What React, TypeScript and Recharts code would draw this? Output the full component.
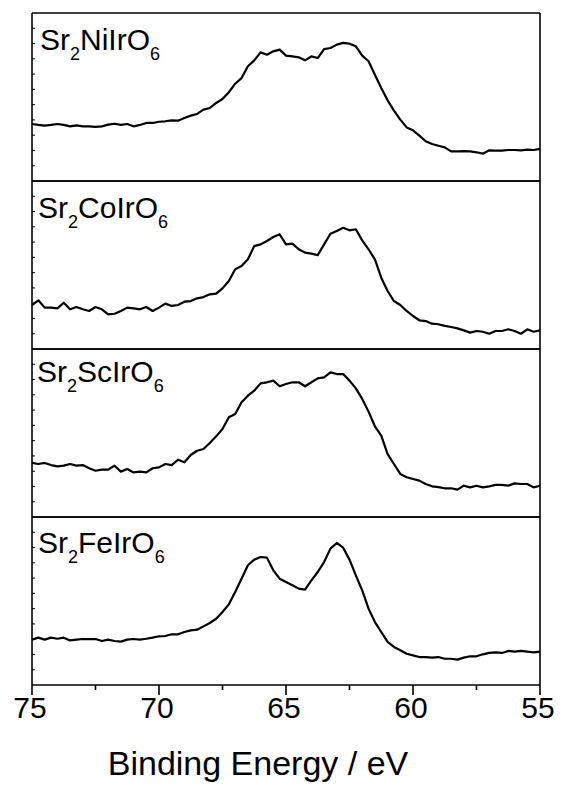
import React from "react";
import { Customized, Line, LineChart, XAxis, YAxis } from "recharts";

const FONT = '"Liberation Sans", Arial, Helvetica, sans-serif';

// binding energy grid (eV)
const ENERGY = [
  75, 74.75, 74.5, 74.25, 74, 73.75, 73.5, 73.25, 73, 72.75, 72.5, 72.25, 72,
  71.75, 71.5, 71.25, 71, 70.75, 70.5, 70.25, 70, 69.75, 69.5, 69.25, 69, 68.75,
  68.5, 68.25, 68, 67.75, 67.5, 67.25, 67, 66.75, 66.5, 66.25, 66, 65.75, 65.5,
  65.25, 65, 64.75, 64.5, 64.25, 64, 63.75, 63.5, 63.25, 63, 62.75, 62.5, 62.25,
  62, 61.75, 61.5, 61.25, 61, 60.75, 60.5, 60.25, 60, 59.75, 59.5, 59.25, 59,
  58.75, 58.5, 58.25, 58, 57.75, 57.5, 57.25, 57, 56.75, 56.5, 56.25, 56, 55.75,
  55.5, 55.25, 55,
];

// intensities, arbitrary units per panel
const NI = [
  3.73, 3.67, 3.62, 3.67, 3.73, 3.67, 3.58, 3.64, 3.58, 3.58,
  3.54, 3.58, 3.69, 3.75, 3.67, 3.73, 3.58, 3.67, 3.8, 3.8,
  3.88, 3.91, 3.97, 3.95, 4.12, 4.28, 4.39, 4.67, 4.78, 5.11,
  5.37, 5.81, 6.37, 6.74, 7.51, 7.9, 8.42, 8.27, 8.49, 8.6,
  8.21, 8.16, 8.1, 7.9, 8.16, 8.05, 8.64, 8.71, 8.93, 9.04,
  8.99, 8.82, 8.21, 7.84, 6.96, 6.09, 5.28, 4.61, 4.02, 3.51,
  3.32, 2.97, 2.6, 2.42, 2.31, 2.2, 1.94, 1.94, 1.96, 1.94,
  1.88, 1.79, 2.01, 1.99, 1.99, 2.03, 2.03, 2.01, 2.05, 2.03,
  2.1,
];

const CO = [
  2.88, 3.19, 2.71, 2.71, 2.66, 3.03, 2.6, 2.75, 2.6, 2.49,
  2.75, 2.6, 2.27, 2.31, 2.49, 2.71, 2.66, 2.6, 2.75, 2.49,
  2.71, 2.97, 2.82, 2.88, 3.1, 3.14, 3.32, 3.4, 3.58, 3.62,
  3.97, 4.45, 5.22, 5.43, 5.87, 6.74, 6.85, 7.07, 7.33, 7.51,
  6.85, 6.9, 6.53, 6.31, 6.24, 6.15, 6.85, 7.55, 7.73, 7.94,
  7.77, 7.84, 7.11, 6.53, 5.87, 4.67, 3.8, 3.14, 2.88, 2.49,
  2.16, 1.88, 1.83, 1.66, 1.62, 1.51, 1.44, 1.35, 1.22, 1.07,
  1.18, 1.13, 1.0, 1.18, 1.18, 1.29, 1.18, 1.0, 1.29, 1.13,
  1.22,
];

const SC = [
  3.54, 3.47, 3.54, 3.4, 3.32, 3.36, 3.47, 3.36, 3.4, 3.19,
  3.03, 3.1, 3.1, 3.36, 2.97, 3.14, 2.92, 2.97, 2.92, 3.19,
  3.25, 3.47, 3.4, 3.75, 3.58, 4.06, 4.34, 4.45, 4.85, 5.28,
  5.76, 6.53, 6.74, 7.51, 7.94, 8.27, 8.75, 8.82, 8.93, 8.56,
  8.71, 8.82, 8.82, 8.56, 8.82, 9.08, 9.14, 9.47, 9.36, 9.36,
  8.93, 8.42, 7.73, 6.9, 5.94, 5.33, 4.12, 3.47, 2.82, 2.6,
  2.49, 2.38, 2.16, 2.01, 1.96, 1.88, 1.88, 1.79, 2.05, 1.94,
  2.05, 1.94, 2.01, 2.1, 2.1, 2.05, 2.2, 2.16, 2.16, 1.94,
  2.05,
];

const FE = [
  2.97, 3.1, 2.97, 3.1, 3.03, 3.1, 2.92, 2.97, 3.01, 3.01,
  3.01, 2.88, 2.97, 2.88, 2.84, 2.97, 3.01, 2.97, 3.03, 3.1,
  3.19, 3.21, 3.32, 3.32, 3.47, 3.58, 3.62, 3.84, 4.06, 4.34,
  4.78, 5.28, 6.09, 6.96, 7.84, 8.21, 8.38, 8.34, 7.51, 6.96,
  6.74, 6.53, 6.31, 6.24, 6.85, 7.4, 8.05, 8.93, 9.3, 8.99,
  8.21, 7.18, 6.2, 5.0, 4.12, 3.47, 2.82, 2.49, 2.27, 2.05,
  1.94, 1.83, 1.83, 1.79, 1.83, 1.72, 1.72, 1.66, 1.79, 1.88,
  1.88, 2.01, 2.1, 2.14, 2.1, 2.23, 2.18, 2.23, 2.18, 2.14,
  2.18,
];

const X_TICKS = [75, 72.5, 70, 67.5, 65, 62.5, 60, 57.5, 55];
const Y_TICKS = [1, 2, 3, 4, 5, 6, 7, 8, 9, 10];

const PANELS = [
  { key: "ni", metal: "Ni", labelX: 32, labelY: 37 },
  { key: "co", metal: "Co", labelX: 30, labelY: 37 },
  { key: "sc", metal: "Sc", labelX: 29, labelY: 33 },
  { key: "fe", metal: "Fe", labelX: 30, labelY: 36 },
];

const data = ENERGY.map((e, i) => ({
  energy: e,
  ni: NI[i],
  co: CO[i],
  sc: SC[i],
  fe: FE[i],
}));

const CHART_W = 547;
const PANEL_H = 168;
const AXIS_H = 100;
const STROKE = 1.6;

const EnergyTick = (props: any) => {
  const { x, y, payload } = props;
  const major = payload.value % 5 === 0;
  return (
    <g>
      <line x1={x} x2={x} y1={y} y2={y + (major ? 10 : 5)} stroke="#000" strokeWidth={STROKE} />
      {major ? (
        <text x={x - 2} y={y + 33} textAnchor="middle" fontSize={30} fontFamily={FONT} fill="#000">
          {payload.value}
        </text>
      ) : null}
    </g>
  );
};

const NoLabel = () => <g />;

const CompoundLabel = ({ x, y, metal }: { x: number; y: number; metal: string }) => (
  <text x={x} y={y} fontSize={30} fontFamily={FONT} fill="#000">
    Sr
    <tspan fontSize={18} dy={10}>2</tspan>
    <tspan fontSize={30} dy={-10}>{metal}IrO</tspan>
    <tspan fontSize={18} dy={10}>6</tspan>
  </text>
);

const TitleLabel = (p: any) => {
  const vb = p.viewBox;
  return (
    <text
      x={vb.x + vb.width / 2 - 28}
      y={vb.y + 90}
      textAnchor="middle"
      fontSize={34}
      fontFamily={FONT}
      fill="#000"
    >
      Binding Energy / eV
    </text>
  );
};

const Panel = ({ panel, index }: { panel: (typeof PANELS)[number]; index: number }) => {
  const last = index === PANELS.length - 1;
  const height = 1 + PANEL_H + (last ? AXIS_H : 1);

  return (
    <div style={{ marginTop: index === 0 ? 0 : -2 }}>
      <LineChart
        width={CHART_W}
        height={height}
        data={data}
        margin={{ top: 0, right: 14, bottom: 0, left: 24 }}
      >
        <XAxis
          xAxisId="top"
          orientation="top"
          dataKey="energy"
          type="number"
          domain={[55, 75]}
          reversed
          ticks={X_TICKS}
          height={1}
          tick={NoLabel}
          tickLine={false}
          axisLine={{ stroke: "#000", strokeWidth: STROKE }}
        />
        <XAxis
          xAxisId="bottom"
          orientation="bottom"
          dataKey="energy"
          type="number"
          domain={[55, 75]}
          reversed
          ticks={X_TICKS}
          interval={0}
          height={last ? AXIS_H : 1}
          tickSize={0}
          tickMargin={0}
          tickLine={false}
          tick={last ? <EnergyTick /> : NoLabel}
          axisLine={{ stroke: "#000", strokeWidth: STROKE }}
          label={last ? { position: "insideBottom", content: <TitleLabel /> } : undefined}
        />
        <YAxis
          yAxisId="left"
          orientation="left"
          type="number"
          domain={[0, 11]}
          ticks={Y_TICKS}
          interval={0}
          width={1}
          mirror
          tickSize={3}
          tick={NoLabel}
          tickLine={{ stroke: "#000", strokeWidth: 1 }}
          axisLine={{ stroke: "#000", strokeWidth: STROKE }}
        />
        <YAxis
          yAxisId="right"
          orientation="right"
          type="number"
          domain={[0, 11]}
          ticks={Y_TICKS}
          interval={0}
          width={1}
          tickSize={3}
          tick={NoLabel}
          tickLine={{ stroke: "#000", strokeWidth: 1 }}
          axisLine={{ stroke: "#000", strokeWidth: STROKE }}
        />
        <Line
          xAxisId="bottom"
          yAxisId="left"
          type="linear"
          dataKey={panel.key}
          stroke="#000"
          strokeWidth={2.2}
          strokeLinejoin="round"
          dot={false}
          isAnimationActive={false}
        />
        <Customized
          component={() => <CompoundLabel x={panel.labelX} y={1 + panel.labelY} metal={panel.metal} />}
        />
      </LineChart>
    </div>
  );
};

export default function App() {
  return (
    <div style={{ width: CHART_W, background: "#fff", paddingTop: 12, paddingLeft: 8 }}>
      <style>{"body{margin:0}"}</style>
      {PANELS.map((p, i) => (
        <Panel key={p.key} panel={p} index={i} />
      ))}
    </div>
  );
}
